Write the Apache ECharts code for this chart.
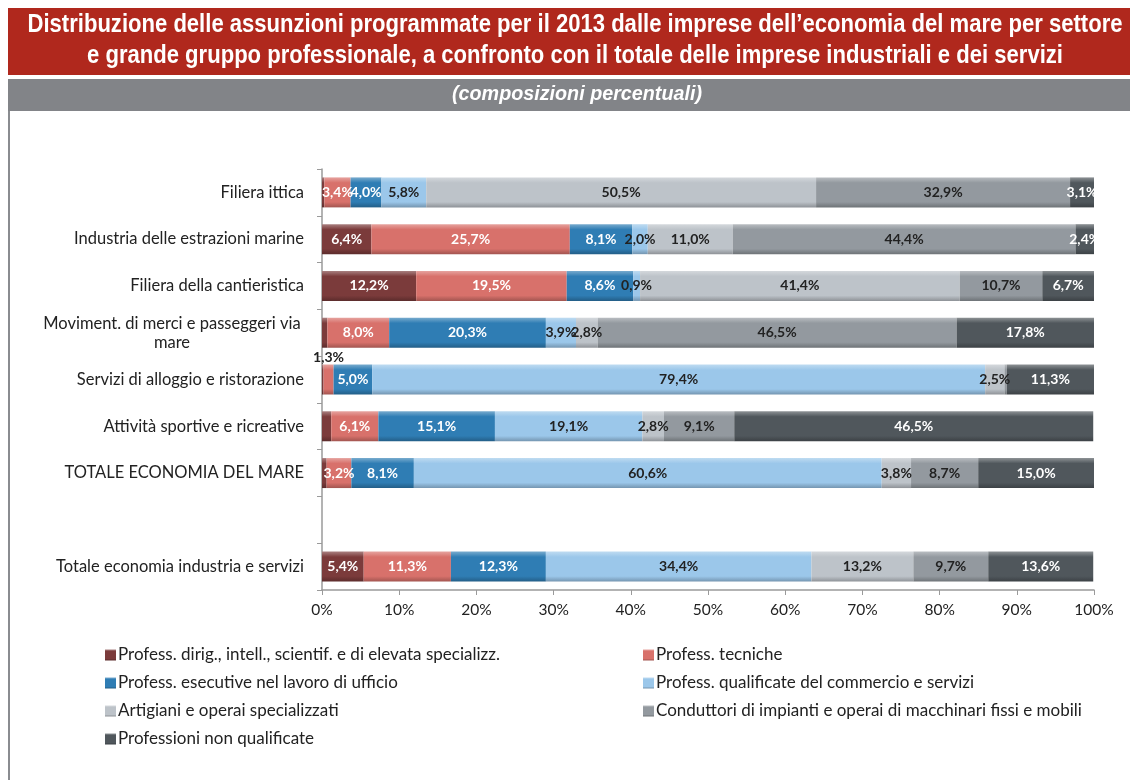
<!DOCTYPE html>
<html>
<head>
<meta charset="utf-8">
<script src="https://cdn.jsdelivr.net/npm/echarts@6/dist/echarts.min.js"></script>
<style>html,body{margin:0;padding:0;background:#fff;}#c{width:1130px;height:780px;}</style>
</head>
<body>
<div id="c"></div>
<script>
const titleLines = [
  "Distribuzione delle assunzioni programmate per il 2013 dalle imprese dell\u2019economia del mare per settore",
  "e grande gruppo professionale, a confronto con il totale delle imprese industriali e dei servizi"
];
const subtitle = "(composizioni percentuali)";
const categories = [
  "Filiera ittica",
  "Industria delle estrazioni marine",
  "Filiera della cantieristica",
  "Moviment. di merci e passeggeri via\nmare",
  "Servizi di alloggio e ristorazione",
  "Attivit\u00e0 sportive e ricreative",
  "TOTALE ECONOMIA DEL MARE",
  "",
  "Totale economia industria e servizi"
];
const seriesNames = [
  "Profess. dirig., intell., scientif. e di elevata specializz.",
  "Profess. tecniche",
  "Profess. esecutive nel lavoro di ufficio",
  "Profess. qualificate del commercio e servizi",
  "Artigiani e operai specializzati",
  "Conduttori di impianti e operai di macchinari fissi e mobili",
  "Professioni non qualificate"
];
const dirig       = [0.3, 6.4, 12.2, 0.7, 0.2, 1.2, 0.6, null, 5.4];
const tecniche    = [3.4, 25.7, 19.5, 8.0, 1.3, 6.1, 3.2, null, 11.3];
const esecutive   = [4.0, 8.1, 8.6, 20.3, 5.0, 15.1, 8.1, null, 12.3];
const qualificate = [5.8, 2.0, 0.9, 3.9, 79.4, 19.1, 60.6, null, 34.4];
const artigiani   = [50.5, 11.0, 41.4, 2.8, 2.5, 2.8, 3.8, null, 13.2];
const conduttori  = [32.9, 44.4, 10.7, 46.5, 0.3, 9.1, 8.7, null, 9.7];
const nonQual     = [3.1, 2.4, 6.7, 17.8, 11.3, 46.5, 15.0, null, 13.6];
const xTicks = [0, 10, 20, 30, 40, 50, 60, 70, 80, 90, 100];

// [seriesIndex, categoryIndex] of segments without a printed value
const unlabeled = [[0,0],[0,3],[0,4],[0,5],[0,6],[5,4]];
// segments whose value is printed above the bar
const labelAbove = [[1,4]];

const values = [dirig, tecniche, esecutive, qualificate, artigiani, conduttori, nonQual];
const colors = ['#7b3b3b', '#d8716b', '#2f7db4', '#9bc7ea', '#bdc3c9', '#93999f', '#50575c'];
const labelColors = ['#fff', '#fff', '#fff', '#222', '#222', '#222', '#fff'];

function shade(hex, f) {
  const n = parseInt(hex.slice(1), 16);
  let r = (n >> 16) & 255, g = (n >> 8) & 255, b = n & 255;
  const t = f < 0 ? 0 : 255, p = Math.abs(f);
  r = Math.round((t - r) * p + r); g = Math.round((t - g) * p + g); b = Math.round((t - b) * p + b);
  return 'rgb(' + r + ',' + g + ',' + b + ')';
}
function grad(c) {
  return new echarts.graphic.LinearGradient(0, 0, 0, 1, [
    {offset: 0, color: shade(c, 0.35)},
    {offset: 0.18, color: c},
    {offset: 0.82, color: c},
    {offset: 1, color: shade(c, -0.25)}
  ]);
}
function has(list, s, i) { return list.some(p => p[0] === s && p[1] === i); }
const fmt = v => v.toFixed(1).replace('.', ',') + '%';

const FONT = 'Lato, "Open Sans", sans-serif';
const TFONT = 'bold 25px "Liberation Sans", Arial, sans-serif';
const SFONT = 'italic bold 21px "Liberation Sans", Arial, sans-serif';

const mctx = document.createElement('canvas').getContext('2d');
function textW(t, f) { mctx.font = f; return mctx.measureText(t).width; }
const titleScale = 1095 / textW(titleLines[0], TFONT);
const subScale = 250 / textW(subtitle, SFONT);

const series = values.map((arr, s) => ({
  name: seriesNames[s],
  type: 'bar',
  stack: 'total',
  barWidth: 30,
  itemStyle: {color: grad(colors[s])},
  emphasis: {disabled: true},
  data: arr.map((v, i) => {
    if (v === null) return null;
    const item = {value: v};
    if (has(unlabeled, s, i)) {
      item.label = {show: false};
    } else if (has(labelAbove, s, i)) {
      item.label = {show: true, position: 'top', distance: 0, color: '#222'};
    }
    return item;
  }),
  label: {
    show: true,
    position: 'inside',
    color: labelColors[s],
    fontFamily: FONT,
    fontWeight: 'bold',
    fontSize: 14,
    formatter: p => fmt(p.value)
  }
}));

const chart = echarts.init(document.getElementById('c'), null, {renderer: 'canvas'});
chart.setOption({
  animation: false,
  backgroundColor: '#fff',
  grid: {left: 322, right: 36, top: 169, bottom: 190, containLabel: false},
  xAxis: {
    type: 'value',
    min: xTicks[0],
    max: xTicks[xTicks.length - 1],
    interval: 10,
    axisLine: {show: true, lineStyle: {color: '#9a9a9a', width: 1.5}},
    axisTick: {show: true, length: 5, lineStyle: {color: '#9a9a9a'}},
    splitLine: {show: false},
    axisLabel: {color: '#222', fontFamily: FONT, fontSize: 15.5, margin: 12, formatter: v => v + '%'}
  },
  yAxis: {
    type: 'category',
    inverse: true,
    data: categories,
    axisLine: {show: true, lineStyle: {color: '#9a9a9a', width: 1.5}},
    axisTick: {show: true, length: 5, lineStyle: {color: '#9a9a9a'}},
    axisLabel: {
      color: '#222', fontFamily: FONT, fontSize: 16.5, margin: 18,
      formatter: v => v.indexOf('\n') >= 0 ? v.split('\n').map(l => '{c|' + l + '}').join('\n') : v,
      rich: {c: {width: 264, align: 'center', fontFamily: FONT, fontSize: 16.5, color: '#222', lineHeight: 19}}
    }
  },
  legend: [
    {
      orient: 'vertical', left: 100, top: 641, itemWidth: 11, itemHeight: 11, itemGap: 10,
      icon: 'rect', selectedMode: false,
      data: [seriesNames[0], seriesNames[2], seriesNames[4], seriesNames[6]],
      textStyle: {color: '#222', fontFamily: FONT, fontSize: 17, lineHeight: 18, padding: [0, 0, 0, -3]}
    },
    {
      orient: 'vertical', left: 638, top: 641, itemWidth: 11, itemHeight: 11, itemGap: 10,
      icon: 'rect', selectedMode: false,
      data: [seriesNames[1], seriesNames[3], seriesNames[5]],
      textStyle: {color: '#222', fontFamily: FONT, fontSize: 17, lineHeight: 18, padding: [0, 0, 0, -3]}
    }
  ],
  graphic: [
    {type: 'rect', left: 8, top: 8, shape: {width: 1122, height: 67}, style: {fill: '#b0281d'}, silent: true},
    {type: 'text', x: 575, y: 13, scaleX: titleScale, silent: true, style: {
      text: titleLines[0], fill: '#fff', align: 'center', font: TFONT
    }},
    {type: 'text', x: 575, y: 44, scaleX: titleScale, silent: true, style: {
      text: titleLines[1], fill: '#fff', align: 'center', font: TFONT
    }},
    {type: 'rect', left: 8, top: 79, shape: {width: 1122, height: 32}, style: {fill: '#828488'}, silent: true},
    {type: 'text', x: 577, y: 84, scaleX: subScale, silent: true, style: {
      text: subtitle, fill: '#fff', align: 'center', font: SFONT
    }},
    {type: 'rect', left: 8, top: 111, shape: {width: 2, height: 669}, style: {fill: '#8a8c90'}, silent: true}
  ],
  series: series
});
</script>
</body>
</html>
